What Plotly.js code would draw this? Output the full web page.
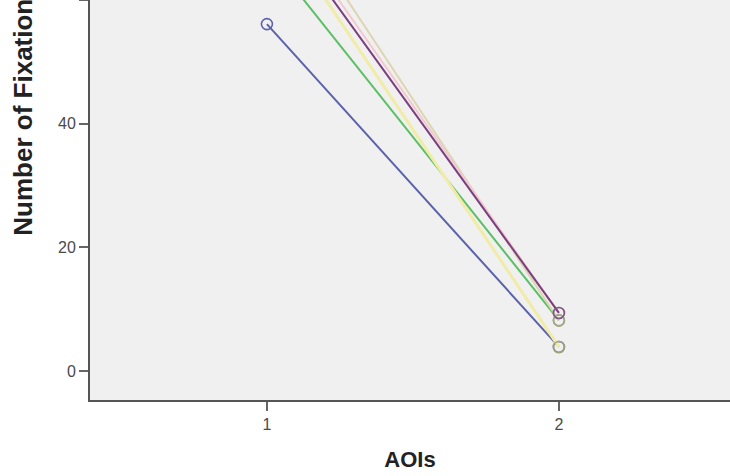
<!DOCTYPE html>
<html>
<head>
<meta charset="utf-8">
<script src="https://cdn.plot.ly/plotly-3.0.1.min.js"></script>
<style>html,body{margin:0;padding:0;background:#fff;}#chart{width:730px;height:476px;}</style>
</head>
<body>
<div id="chart"></div>
<script>
// Data
const aois = [1, 2];
const seriesNames = ["Series 1", "Series 2", "Series 3", "Series 4", "Series 5", "Series 6"];
const blueVals   = [56.1, 3.9];
const greenVals  = [67.5, 8.2];
const yellowVals = [74.2, 3.9];
const purpleVals = [74.8, 9.4];
const pinkVals   = [76.5, 9.4];
const tanVals    = [79.7, 8.2];
const yTickVals = [0, 20, 40, 60];
const xTickVals = [1, 2];

const allVals = [blueVals, greenVals, yellowVals, tanVals, pinkVals, purpleVals];
const names = [seriesNames[0], seriesNames[1], seriesNames[2], seriesNames[5], seriesNames[4], seriesNames[3]];
const lineColors = ["#5b62aa", "#5cbf66", "#f0eca8", "#dcd6b4", "#f1c9d0", "#7b3f80"];
const lineWidths = [2, 2, 3, 2, 2, 2];
const markerColors = ["#5b62aa", "#8aa870", "#a3a37a", "#a8a48a", "#b89aa8", "#7b5a84"];

const traces = allVals.map((v, i) => ({
  x: aois,
  y: v,
  name: names[i],
  type: "scatter",
  mode: "lines+markers",
  line: {color: lineColors[i], width: lineWidths[i]},
  marker: {symbol: "circle-open", size: 11, color: markerColors[i], line: {width: 1.6, color: markerColors[i]}},
  cliponaxis: true,
  hoverinfo: "x+y"
}));

const layout = {
  width: 730,
  height: 476,
  margin: {l: 90, r: 0, t: 0, b: 76},
  paper_bgcolor: "#ffffff",
  plot_bgcolor: "#f0f0f0",
  showlegend: false,
  font: {family: "Liberation Sans, Arial, sans-serif"},
  xaxis: {
    range: [0.394, 2.586],
    tickvals: xTickVals,
    ticktext: xTickVals.map(String),
    ticks: "outside",
    ticklen: 9,
    tickwidth: 2,
    tickcolor: "#666",
    showline: true,
    linecolor: "#555",
    linewidth: 2,
    showgrid: false,
    zeroline: false,
    tickfont: {size: 16, color: "#4a4a4a"},
    title: {text: "AOIs", font: {size: 22, color: "#222", weight: "bold"}, standoff: 19}
  },
  yaxis: {
    range: [-4.68, 60.0],
    tickvals: yTickVals,
    ticktext: yTickVals.map(String),
    ticks: "outside",
    ticklen: 9,
    tickwidth: 2,
    tickcolor: "#666",
    showline: true,
    linecolor: "#555",
    linewidth: 2,
    showgrid: false,
    zeroline: false,
    tickfont: {size: 16, color: "#4a4a4a"}
  },
  annotations: [{
    text: "<b>Number of Fixations</b>",
    xref: "paper", yref: "paper",
    x: -0.106, y: 0.405,
    xanchor: "center", yanchor: "bottom",
    textangle: -90,
    showarrow: false,
    font: {size: 26, color: "#222"}
  }]
};

Plotly.newPlot("chart", traces, layout, {displayModeBar: false, staticPlot: true});
</script>
</body>
</html>
